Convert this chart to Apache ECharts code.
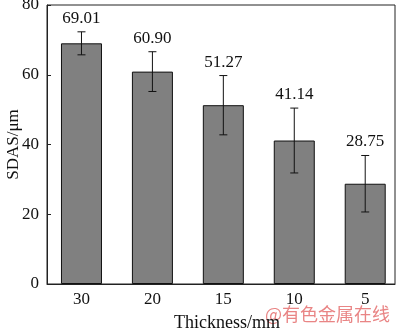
<!DOCTYPE html>
<html>
<head>
<meta charset="utf-8">
<script src="https://cdn.jsdelivr.net/npm/echarts@6/dist/echarts.min.js"></script>
<style>html,body{margin:0;padding:0;background:#fff;}#c{width:400px;height:330px;}</style>
</head>
<body>
<div id="c"></div>
<script>
const categories = ['30', '20', '15', '10', '5'];
const sdas = [69.01, 60.90, 51.27, 41.14, 28.75];
const errors = [3.3, 5.7, 8.5, 9.3, 8.1];
const yTicks = [0, 20, 40, 60, 80];

const positions = categories.map((c, i) => i + 1);
const barData = sdas.map((v, i) => [positions[i], v]);
const errData = sdas.map((v, i) => [positions[i], v, errors[i]]);
const FONT = 'Liberation Serif';

const chart = echarts.init(document.getElementById('c'), null, {renderer: 'canvas'});
chart.setOption({
  animation: false,
  grid: {left: 47, right: 5, top: 5, bottom: 46, show: true, borderColor: '#222', borderWidth: 1,
         backgroundColor: 'transparent', containLabel: false, outerBoundsMode: 'none'},
  xAxis: {
    type: 'value', min: 0.514, max: 5.42,
    name: 'Thickness/mm', nameLocation: 'middle', nameGap: 30, nameMoveOverlap: false,
    nameTextStyle: {fontFamily: FONT, fontSize: 18, color: '#111', padding: [0, 0, 0, 12]},
    axisLine: {show: true, lineStyle: {color: '#222', width: 1}},
    axisTick: {show: false},
    splitLine: {show: false},
    axisLabel: {
      customValues: positions,
      formatter: v => categories[Math.round(v) - 1] || '',
      fontFamily: FONT, fontSize: 17, color: '#111', margin: 7
    }
  },
  yAxis: {
    type: 'value', min: 0, max: 80, interval: 20,
    name: 'SDAS/μm', nameLocation: 'middle', nameGap: 25, nameMoveOverlap: false,
    nameTextStyle: {fontFamily: FONT, fontSize: 17, color: '#111'},
    axisLine: {show: true, lineStyle: {color: '#222', width: 1}},
    axisTick: {show: true, inside: true, length: 4, lineStyle: {color: '#222'}},
    splitLine: {show: false},
    axisLabel: {
      customValues: yTicks,
      fontFamily: FONT, fontSize: 17, color: '#111', margin: 8
    }
  },
  series: [
    {
      type: 'bar', data: barData, barWidth: 41,
      itemStyle: {color: '#808080', borderColor: '#111', borderWidth: 1}
    },
    {
      type: 'custom', data: errData, z: 10,
      renderItem: function (params, api) {
        const x = api.value(0), v = api.value(1), e = api.value(2);
        const top = api.coord([x, v + e]);
        const bot = api.coord([x, v - e]);
        const hw = 4;
        const style = {stroke: '#111', lineWidth: 1};
        return {
          type: 'group',
          children: [
            {type: 'line', shape: {x1: top[0], y1: top[1], x2: bot[0], y2: bot[1]}, style: style},
            {type: 'line', shape: {x1: top[0] - hw, y1: top[1], x2: top[0] + hw, y2: top[1]}, style: style},
            {type: 'line', shape: {x1: bot[0] - hw, y1: bot[1], x2: bot[0] + hw, y2: bot[1]}, style: style},
            {type: 'text', x: top[0], y: top[1] - 5,
             style: {text: v.toFixed(2), font: '17px ' + FONT, fill: '#111', align: 'center', verticalAlign: 'bottom'}}
          ]
        };
      }
    }
  ],
  graphic: [
    {type: 'text', right: 10, bottom: 7,
     style: {text: '@有色金属在线', font: '18px "Noto Sans CJK SC"', fill: '#e98585'}}
  ]
});
</script>
</body>
</html>
